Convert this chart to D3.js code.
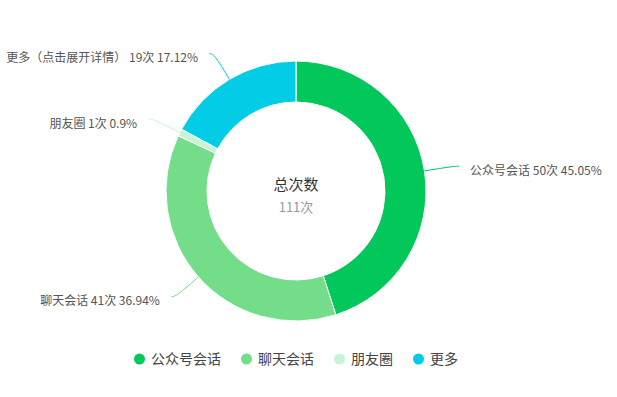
<!DOCTYPE html>
<html>
<head>
<meta charset="utf-8">
<script src="https://cdn.jsdelivr.net/npm/d3@7"></script>
<style>
  html, body { margin: 0; padding: 0; background: #fff; }
  svg text { font-family: "PingFang SC", "Noto Sans CJK SC", "Noto Sans", sans-serif; }
</style>
</head>
<body>
<svg class="svg" width="617" height="397"></svg>
<script>
// 数据
var names = ["公众号会话", "聊天会话", "朋友圈", "更多"];
var labelNames = ["公众号会话", "聊天会话", "朋友圈", "更多（点击展开详情）"];
var counts = [50, 41, 1, 19];
var percents = ["45.05%", "36.94%", "0.9%", "17.12%"];
var colormap = ["#02C85B", "#74DD89", "#C9F4D4", "#03CDE6"];
var centerTitle = "总次数";
var centerValue = "111次";

var svg = d3.select(".svg");
var cx = 296, cy = 191;
var outerR = 130, innerR = 89;

var g = svg.append("g").attr("transform", "translate(" + cx + "," + cy + ")");

var pie = d3.pie().sort(null).value(function (d) { return d; });
var arcs = pie(counts);
var arc = d3.arc().innerRadius(innerR).outerRadius(outerR);

// 扇区
g.append("g").attr("class", "slices").selectAll("path").data(arcs).enter().append("path")
    .attr("d", arc)
    .attr("fill", function (d, i) { return colormap[i]; })
    .attr("stroke", "#fff")
    .attr("stroke-width", 1);

// 引导线 + 标签
var lineLen = 30, hLen = 5, gap = 11;
var line = d3.line().curve(d3.curveBasis);
var gLabel = g.append("g").attr("class", "labels");
arcs.forEach(function (d, i) {
    var a = (d.startAngle + d.endAngle) / 2;
    var sx = Math.sin(a), sy = -Math.cos(a);
    var p0 = [sx * outerR, sy * outerR];
    var p1 = [sx * (outerR + lineLen), sy * (outerR + lineLen)];
    var dir = sx >= 0 ? 1 : -1;
    var p2 = [p1[0] + dir * hLen, p1[1]];
    gLabel.append("path")
        .attr("d", line([p0, p1, p2]))
        .attr("fill", "none")
        .attr("stroke", colormap[i])
        .attr("stroke-width", 1);
    gLabel.append("text")
        .attr("x", p2[0] + dir * gap)
        .attr("y", p2[1] + 5.5)
        .attr("dominant-baseline", "middle")
        .attr("text-anchor", dir > 0 ? "start" : "end")
        .attr("font-size", 12)
        .attr("fill", "#555")
        .text(labelNames[i] + " " + counts[i] + "次 " + percents[i]);
});

// 中心文字
g.append("text").attr("x", 0).attr("y", -5)
    .attr("text-anchor", "middle").attr("dominant-baseline", "middle")
    .attr("font-size", 15).attr("fill", "#333")
    .text(centerTitle);
g.append("text").attr("x", 0).attr("y", 17)
    .attr("text-anchor", "middle").attr("dominant-baseline", "middle")
    .attr("font-size", 13).attr("fill", "#999")
    .text(centerValue);

// 图例
var legend = svg.append("g").attr("class", "legend");
var dotR = 5.5, textGap = 6, itemGap = 20, legendY = 359;
var x = 0;
names.forEach(function (n, i) {
    var it = legend.append("g");
    it.append("circle").attr("cx", dotR).attr("cy", 0).attr("r", dotR).attr("fill", colormap[i]);
    var t = it.append("text").attr("x", dotR * 2 + textGap).attr("y", 1)
        .attr("dominant-baseline", "middle")
        .attr("font-size", 14).attr("fill", "#444").text(n);
    var w = dotR * 2 + textGap + t.node().getComputedTextLength();
    it.attr("transform", "translate(" + x + "," + legendY + ")");
    x += w + itemGap;
});
var totalW = x - itemGap;
legend.attr("transform", "translate(" + (cx - totalW / 2) + ",0)");
</script>
</body>
</html>
